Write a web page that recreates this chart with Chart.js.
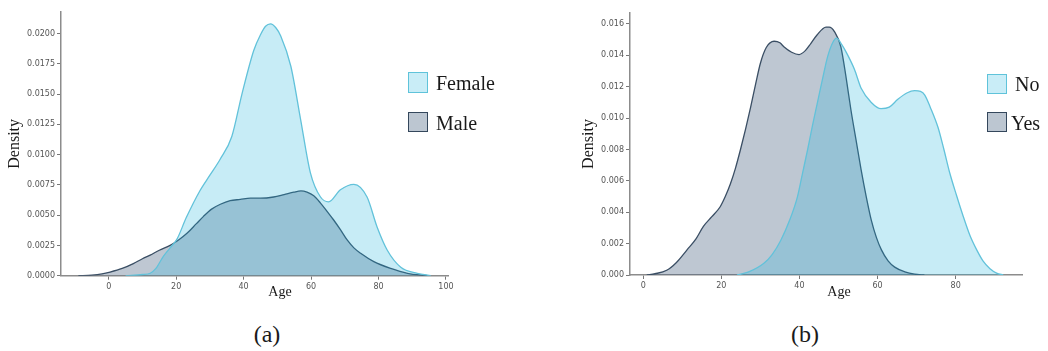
<!DOCTYPE html>
<html>
<head>
<meta charset="utf-8">
<script src="https://cdn.jsdelivr.net/npm/chart.js@4.4.0/dist/chart.umd.min.js"></script>
<style>
  html, body { margin: 0; padding: 0; background: #fff; }
  body { width: 1048px; height: 351px; position: relative; overflow: hidden; }
  canvas { position: absolute; top: 0; }
  .t { position: absolute; font-family: "Liberation Serif", "Times New Roman", serif; color: #1a1a1a; white-space: nowrap; line-height: 1; }
  .c { transform: translate(-50%, -50%); }
  .l { transform: translate(0, -50%); }
  .box { position: absolute; box-sizing: border-box; }
</style>
</head>
<body>
<canvas id="ca" width="520" height="310" style="left:0;width:520px;height:310px"></canvas>
<canvas id="cb" width="474" height="310" style="left:574px;width:474px;height:310px"></canvas>

<div class="t c" style="left:280px;top:292px;font-size:14px">Age</div>
<div class="t c" style="left:839px;top:292px;font-size:14px">Age</div>

<div class="box" style="left:408px;top:72px;width:20px;height:21px;background:#c9edf7;border:1.5px solid #5fc3da"></div>
<div class="t l" style="left:436px;top:83px;font-size:20px">Female</div>
<div class="box" style="left:408px;top:112px;width:20px;height:20px;background:#bcc6d1;border:1.5px solid #34475c"></div>
<div class="t l" style="left:436px;top:123px;font-size:20px">Male</div>

<div class="box" style="left:987px;top:74px;width:20px;height:20px;background:#c9edf7;border:1.5px solid #5fc3da"></div>
<div class="t l" style="left:1015px;top:84px;font-size:20px">No</div>
<div class="box" style="left:987px;top:112px;width:20px;height:20px;background:#bcc6d1;border:1.5px solid #34475c"></div>
<div class="t l" style="left:1011px;top:123px;font-size:20px">Yes</div>

<div class="t c" style="left:267px;top:334px;font-size:24px">(a)</div>
<div class="t c" style="left:805px;top:334px;font-size:24px">(b)</div>

<script>
// ---- Chart (a): Age density by gender ----
const femaleAge = [5, 10, 12.3, 14, 16.2, 18.2, 20.2, 23, 27, 30, 33, 36.5, 39.5, 43, 45, 46.5, 48, 49.5, 51, 54, 56.9, 59.8, 62.8, 65.2, 68.7, 72.7, 76.6, 79.6, 82.6, 86.6, 91.5, 95.5];
const femaleDensity = [0, 0.0001, 0.0002, 0.0006, 0.0016, 0.0023, 0.0030, 0.0048, 0.0070, 0.0083, 0.0096, 0.0115, 0.0150, 0.0186, 0.0199, 0.0206, 0.0208, 0.0205, 0.0198, 0.0173, 0.0129, 0.0085, 0.0065, 0.0061, 0.0071, 0.00755, 0.0065, 0.0040, 0.0021, 0.0007, 0.0002, 0];
const maleAge = [-9, -5, -2, 0.4, 4, 7.3, 10, 12.3, 15, 18.2, 20.5, 23.2, 26, 28.1, 30.5, 33.1, 36, 39, 42, 45, 48.9, 52, 54.9, 57, 58.8, 60.8, 62.8, 64.8, 66.7, 68.7, 70.7, 72.7, 74.7, 78.6, 83.6, 88.6, 94.5];
const maleDensity = [0, 0.00005, 0.00015, 0.0003, 0.0006, 0.0010, 0.0014, 0.0017, 0.0021, 0.0025, 0.0029, 0.0035, 0.0043, 0.0049, 0.0055, 0.0059, 0.0062, 0.0063, 0.0064, 0.0064, 0.0065, 0.0067, 0.0069, 0.0070, 0.0069, 0.0066, 0.0060, 0.0053, 0.0046, 0.0038, 0.00295, 0.0023, 0.00185, 0.00116, 0.0006, 0.0002, 0];
const xTicksA = [0, 20, 40, 60, 80, 100];
const yTicksA = [0, 0.0025, 0.005, 0.0075, 0.01, 0.0125, 0.015, 0.0175, 0.02];
const seriesA = ["Female", "Male"];

// ---- Chart (b): Age density by Yes/No ----
const noAge = [24, 27, 30.9, 33, 35.2, 37.5, 39.5, 40.8, 42.1, 43.4, 44.7, 46, 47.2, 48.5, 49.5, 50.8, 52.4, 54.1, 55.8, 58.4, 60.9, 63, 65.2, 67.5, 69.5, 71, 72.1, 73.5, 75.5, 77, 78.5, 80.2, 82, 83.7, 85.4, 87, 88.8, 90.5, 92.2];
const noDensity = [0, 0.0002, 0.00075, 0.0013, 0.0022, 0.0035, 0.0050, 0.0065, 0.0080, 0.0096, 0.0111, 0.0126, 0.0139, 0.0148, 0.0151, 0.0147, 0.0140, 0.0131, 0.0119, 0.0110, 0.0106, 0.0107, 0.0112, 0.0116, 0.01175, 0.0117, 0.01147, 0.0107, 0.0094, 0.0080, 0.0065, 0.0051, 0.0037, 0.0025, 0.0016, 0.0009, 0.0004, 0.00012, 0];
const yesAge = [0.9, 3, 6, 8.5, 11.2, 13.5, 15.4, 17.5, 19.7, 21, 22.3, 23.6, 24.9, 26.2, 27.5, 28.8, 30, 31.5, 33.5, 35, 36, 38, 39.9, 41.5, 42.9, 44.5, 46.8, 47.6, 49, 50.6, 52, 53.2, 54.5, 55.8, 57.1, 58.4, 59.7, 61, 62.7, 64.4, 67, 69.5, 72];
const yesDensity = [0, 0.00008, 0.0003, 0.0008, 0.0016, 0.0023, 0.0031, 0.0037, 0.00435, 0.0050, 0.0058, 0.0068, 0.0080, 0.0093, 0.0107, 0.0122, 0.0135, 0.0145, 0.0149, 0.0148, 0.01455, 0.0142, 0.01405, 0.0143, 0.01475, 0.0153, 0.0158, 0.0158, 0.0155, 0.01455, 0.0125, 0.0105, 0.0086, 0.0067, 0.0050, 0.0035, 0.0024, 0.0016, 0.0009, 0.0005, 0.0002, 0.00005, 0];
const xTicksB = [0, 20, 40, 60, 80];
const yTicksB = [0, 0.002, 0.004, 0.006, 0.008, 0.010, 0.012, 0.014, 0.016];
const seriesB = ["No", "Yes"];

const pts = (xs, ys) => xs.map((x, i) => ({ x: x, y: ys[i] }));

const lightFill = 'rgba(32,180,220,0.25)';
const lightLine = '#62c2da';
const darkFill = 'rgba(69,95,126,0.35)';
const darkLine = '#3a4e64';

function ds(label, data, fill, line) {
  return {
    label: label, data: data, fill: 'origin', backgroundColor: fill,
    borderColor: line, borderWidth: 1.3, pointRadius: 0, pointHoverRadius: 0,
    tension: 0.4, cubicInterpolationMode: 'monotone'
  };
}

function makeChart(id, datasets, xMin, xMax, yMax, xTicks, yTicks, yDigits, yAxisW, pad) {
  const tickFont = { family: 'DejaVu Sans', size: 8 };
  return new Chart(document.getElementById(id), {
    type: 'line',
    data: { datasets: datasets },
    options: {
      responsive: false, animation: false, devicePixelRatio: 1,
      layout: { padding: pad },
      plugins: { legend: { display: false }, tooltip: { enabled: false } },
      scales: {
        x: {
          type: 'linear', min: xMin, max: xMax,
          afterBuildTicks: s => { s.ticks = xTicks.map(v => ({ value: v })); },
          afterFit: s => { s.height = 310 - pad.bottom - pad.plotBottom; },
          ticks: { font: tickFont, color: '#555', padding: 2, maxRotation: 0, callback: v => String(v) },
          grid: { display: true, drawOnChartArea: false, tickLength: 4, color: '#777', lineWidth: 1 },
          border: { display: true, color: '#8c8c8c', width: 1.5 }
        },
        y: {
          type: 'linear', min: 0, max: yMax,
          afterBuildTicks: s => { s.ticks = yTicks.map(v => ({ value: v })); },
          afterFit: s => { s.width = yAxisW; },
          ticks: { font: tickFont, color: '#555', padding: 2, callback: v => Number(v).toFixed(yDigits) },
          grid: { display: true, drawOnChartArea: false, tickLength: 4, color: '#777', lineWidth: 1 },
          border: { display: true, color: '#8c8c8c', width: 1.5 },
          title: { display: true, text: 'Density', color: '#1a1a1a',
                   font: { family: 'Liberation Serif', size: 16 }, padding: { top: 5, bottom: 0 } }
        }
      }
    }
  });
}

makeChart('ca',
  [ds(seriesA[0], pts(femaleAge, femaleDensity), lightFill, lightLine),
   ds(seriesA[1], pts(maleAge, maleDensity), darkFill, darkLine)],
  -14.15, 100.6, 0.02178, xTicksA, yTicksA, 4, 61,
  { top: 12, right: 72, bottom: 0, left: 0, plotBottom: 275.7 });

makeChart('cb',
  [ds(seriesB[0], pts(noAge, noDensity), lightFill, lightLine),
   ds(seriesB[1], pts(yesAge, yesDensity), darkFill, darkLine)],
  -3.4, 97, 0.0167, xTicksB, yTicksB, 3, 56,
  { top: 13, right: 26, bottom: 0, left: 0, plotBottom: 275 });
</script>
</body>
</html>
